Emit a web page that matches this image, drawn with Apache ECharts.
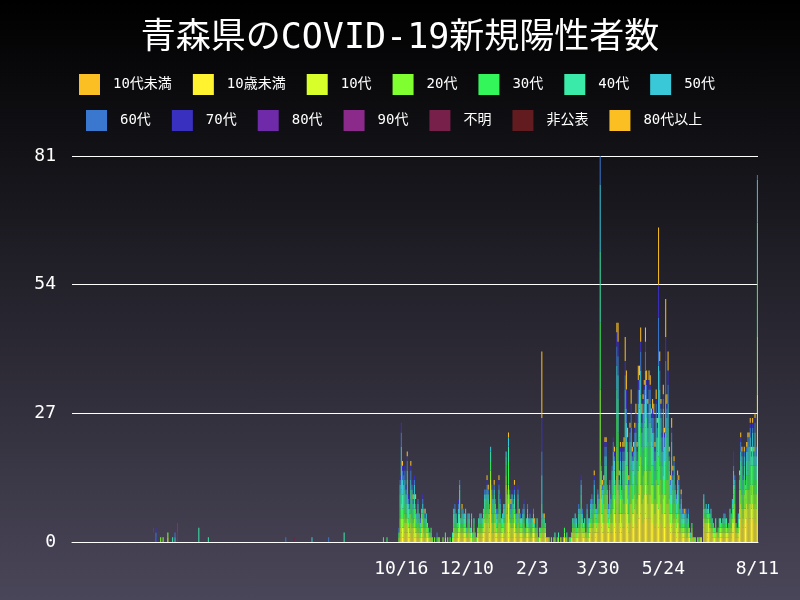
<!DOCTYPE html>
<html>
<head>
<meta charset="utf-8">
<script src="https://cdn.jsdelivr.net/npm/echarts@6/dist/echarts.min.js"></script>
<style>
html, body { margin: 0; padding: 0; }
#main { width: 800px; height: 600px; background: linear-gradient(#000000, #4a4659); }
</style>
</head>
<body>
<div id="main"></div>
<script>
var FONT = "'DejaVu Sans Mono', 'Noto Sans CJK JP', monospace";
var startDate = new Date(2021, 0, 13);  //x軸の開始日
var dayCount = 576;
var labelIdx = [276, 331, 386, 441, 496, 575];  //表示する日付
var yTicks = [0, 27, 54, 81];

var names = ['10代未満', '10歳未満', '10代', '20代', '30代', '40代', '50代', '60代', '70代', '80代', '90代', '不明', '非公表', '80代以上'];
var colors = ['#fbbf24', '#fff22e', '#d9ff2a', '#80ff30', '#33f75a', '#3aeaa8', '#38c8d8', '#3a78d0', '#3a30c0', '#6e2aa8', '#8c2a8c', '#76204a', '#621c20', '#fbbf24'];

//270日目以降の日別人数（36進数1文字=1日）
var offset = 270;
var u10 = '0000012112 2211212111 1101110100 0100000000 0000000000 1110121111 1111010100 1111112232 1821211121 1111621211 1211211111 0111101110 1000110100 0000000000 0001000000 1110111210 1010121221 2224322442 2322432762 3233643244 3344355644 5654554443 4435434334 4323222122 1211110100 1000000000 3221222110 1101111111 1121223111 3543435455 45454l';
var teen = '0000023222 2321221211 1111211111 1000000000 0001000000 1111121111 1011110100 0111112222 1521211121 1121627222 2211211111 1111111111 1011112101 1000010000 1000010001 1111011211 1111112121 1228322332 1222332752 3233643244 3334355645 5654554443 4445435334 4323232222 1111111110 1100010100 2221211111 1111111111 1111222111 2332323333 33333a';
var s20 = '0000123222 1311221211 2111212111 0110100100 0100010001 1111121111 1111111111 1111111222 1222221122 1112224112 1211211112 1111111111 1101111000 0010000010 0011000100 1111111211 1111112122 122k324332 1223332662 3232543244 3334356645 5654554443 5456545445 5324232222 1211111111 1010000010 2112111111 1011111111 0121133111 2332323434 34343c';
var s30 = '0000123222 1211221211 1111111111 0100001010 0001000100 1111121111 1011011100 1111122222 2222221122 1111215212 1111111111 0110111100 1011211000 0000100100 0001100010 1011111211 1011011121 121e222332 1213332662 3233543234 3344356645 5654554443 4365435364 5324232122 1111111100 1001001000 1111111111 1011111111 1111233101 2332323434 34343c';
var s40 = '0000035333 2322332321 2112121110 1000000000 0000000001 2211231211 2111110110 0111112111 1222211121 1122223212 2211211111 1121111111 1010311100 0000010010 0000010001 1111022211 1021122221 111f221332 1213432672 3234654245 3344356745 5765555443 5486535475 6324332232 2211111111 0000000000 1111111100 1001101111 0011121001 2332323434 34343c';
var s50 = '0000024322 2211211211 1101110100 0000000000 0000000000 1110110111 1011010000 0011011111 1111111111 0111112111 1111110011 0011010100 0000610100 0000000000 0000000000 0111011210 0011111121 111e211221 1112222552 2122443223 2233244533 4543443332 43b5434384 5223221122 1111111100 0000000000 1011101000 0000000100 0001131001 2222212232 232329';
var s60 = '0000113222 1211211110 1010101000 0000001000 0000000000 0100110010 0000000000 0000001111 1010111111 0000010110 1110101011 0010100100 0000500000 0000000000 0000000000 0000010110 0010011111 0116111221 1111211441 2122332123 1222232422 3433332332 32a4232272 4112111111 1111010100 0000000000 0000000000 0000000010 0000011000 1211111122 111221';
var s70 = '0000012111 1111110110 0000100000 0000000000 0000000000 0000100000 0000000000 0000000010 0000000011 0000000101 0100100001 0000100000 0000700000 0000000000 0000000000 0000000100 0000000010 0000100111 0000110331 1111341012 1112121221 1212211211 1172111151 3101100000 0000000000 0000000000 0000000000 0000000010 0000030000 0100000001 010100';
var s80up = '0000000100 0100101010 0000001000 0000000000 0000000000 0000000100 0000000000 0000000011 0000100010 0000001010 0100010000 0000000010 0000e01010 0000000000 0000000000 0000000000 0000000010 0000011110 0000010241 1012542113 1112132321 1321221221 21c2102182 4112110011 0100100000 0000000000 0000000000 0000000000 0000000000 1110101111 111100';

//初期のまばらな陽性者
var earlyDay = [68, 68, 70, 70, 71, 74, 76, 80, 80, 84, 86, 86, 88, 88, 106, 114, 179, 186, 201, 215, 228, 261, 264];
var earlyCat = ['70代', '80代', '60代', '70代', '70代', '20代', '20代', '10代', '20代', '40代', '50代', '60代', '90代', '80代', '40代', '40代', '60代', '不明', '50代', '60代', '40代', '30代', '30代'];
var earlyVal = [2, 1, 2, 1, 1, 1, 1, 1, 1, 1, 1, 1, 2, 2, 3, 1, 1, 1, 1, 1, 2, 1, 1];

var strMap = {
    '10歳未満': u10, '10代': teen, '20代': s20, '30代': s30, '40代': s40,
    '50代': s50, '60代': s60, '70代': s70, '80代以上': s80up
};

var axisDatas = [];
for (var i = 0; i < dayCount; i++) {
    var d = new Date(startDate.getTime());
    d.setDate(d.getDate() + i);
    axisDatas.push((d.getMonth() + 1) + '/' + d.getDate());
}

var seriesData = {};
names.forEach(function (n) {
    var arr = [];
    for (var i = 0; i < dayCount; i++) arr.push(0);
    if (strMap[n]) {
        var chars = strMap[n].replace(/ /g, '').split('');
        for (var j = 0; j < chars.length; j++) arr[offset + j] = parseInt(chars[j], 36);
    }
    seriesData[n] = arr;
});
for (var k = 0; k < earlyDay.length; k++) {
    seriesData[earlyCat[k]][earlyDay[k]] += earlyVal[k];
}

var series = names.map(function (n, i) {
    return {
        name: n,
        type: 'bar',
        stack: 'total',
        barCategoryGap: '15%',
        itemStyle: { color: colors[i] },
        data: seriesData[n]
    };
});

var legendText = { color: '#ffffff', fontSize: 14, fontFamily: FONT, padding: [0, 0, 0, 8] };

var option = {
    animation: false,
    title: {
        text: '青森県のCOVID-19新規陽性者数',
        left: 'center',
        top: 16,
        textStyle: { color: '#ffffff', fontSize: 35, fontWeight: 'normal', fontFamily: FONT }
    },
    legend: [{
        data: names.slice(0, 7),
        left: 79, top: 74, padding: 0,
        itemWidth: 21, itemHeight: 21, itemGap: 21,
        icon: 'rect',
        textStyle: legendText
    }, {
        data: names.slice(7),
        left: 86, top: 110, padding: 0,
        itemWidth: 21, itemHeight: 21, itemGap: 21,
        icon: 'rect',
        textStyle: legendText
    }],
    grid: { left: 72, right: 42, top: 156, bottom: 58 },
    xAxis: {
        type: 'category',
        data: axisDatas,
        axisLine: { lineStyle: { color: '#ffffff', width: 1 } },
        axisTick: { show: false },
        axisLabel: {
            color: '#ffffff', fontSize: 18, fontFamily: FONT, margin: 18,
            interval: function (idx) { return labelIdx.indexOf(idx) >= 0; },
            showMaxLabel: true
        }
    },
    yAxis: {
        type: 'value',
        min: yTicks[0], max: yTicks[yTicks.length - 1], interval: 27,
        axisLine: { show: false },
        axisTick: { show: false },
        axisLabel: { color: '#ffffff', fontSize: 18, fontFamily: FONT, margin: 16 },
        splitLine: { lineStyle: { color: '#ffffff', width: 1 } }
    },
    series: series
};

var myChart = echarts.init(document.getElementById('main'));
myChart.setOption(option);
</script>
</body>
</html>
